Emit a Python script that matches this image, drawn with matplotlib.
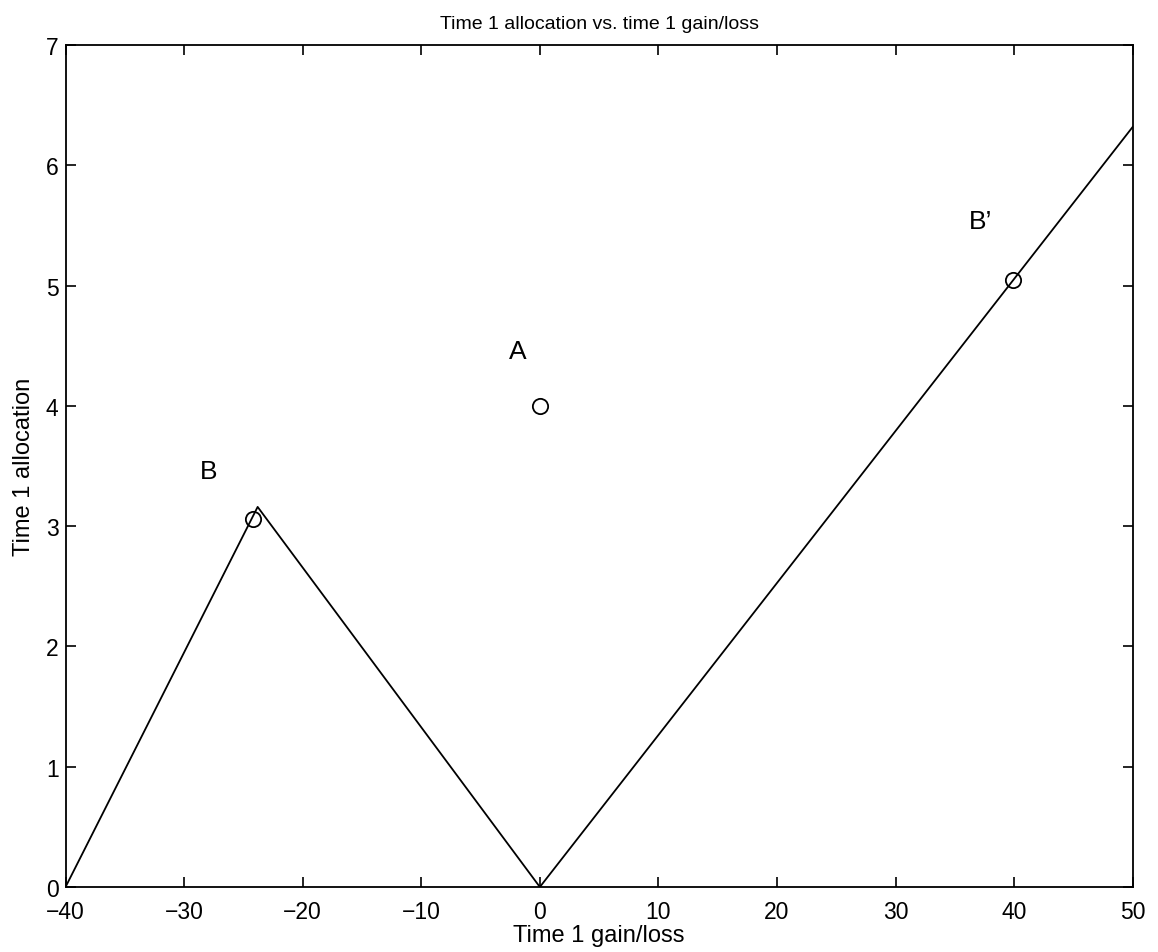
import matplotlib
matplotlib.use("Agg")
import matplotlib.pyplot as plt

plt.rcParams['font.family'] = ['Liberation Sans', 'DejaVu Sans']

# Data
line_x = [-40, -23.8, 0, 50]
line_y = [0, 3.16, 0, 6.32]
pts_x = [-24.2, 0, 39.9]
pts_y = [3.06, 4.0, 5.05]
lab_text = ['B', 'A', "B\u2019"]
lab_x = [-27.9, -1.9, 37.2]
lab_y = [3.46, 4.46, 5.54]
xticks = [-40, -30, -20, -10, 0, 10, 20, 30, 40, 50]
yticks = [0, 1, 2, 3, 4, 5, 6, 7]

fig = plt.figure(figsize=(11.58, 9.53), dpi=100)
ax = fig.add_axes([0.0566, 0.0682, 0.9216, 0.8835])
ax.plot(line_x, line_y, color='black', lw=1.3)
ax.plot(pts_x, pts_y, linestyle='none', marker='o', markersize=11,
        markerfacecolor='none', markeredgecolor='black', markeredgewidth=1.3)
for t, x, y in zip(lab_text, lab_x, lab_y):
    ax.text(x, y, t, fontsize=19, ha='center', va='center')

ax.set_xlim(-40, 50)
ax.set_ylim(0, 7)
ax.set_xticks(xticks)
ax.set_yticks(yticks)
ax.set_xticklabels([str(v).replace('-', '\u2212') for v in xticks])
ax.tick_params(direction='in', length=7, width=1.2, top=True, right=True,
               labelsize=16.5)
ax.tick_params(axis='x', pad=9)
ax.tick_params(axis='y', pad=5)
for s in ax.spines.values():
    s.set_linewidth(1.3)
ax.set_xlabel('Time 1 gain/loss', fontsize=17, labelpad=1)
ax.set_ylabel('Time 1 allocation', fontsize=17, labelpad=8)
ax.set_title('Time 1 allocation vs. time 1 gain/loss', fontsize=14, pad=12)

fig.savefig('out.png', dpi=100)
